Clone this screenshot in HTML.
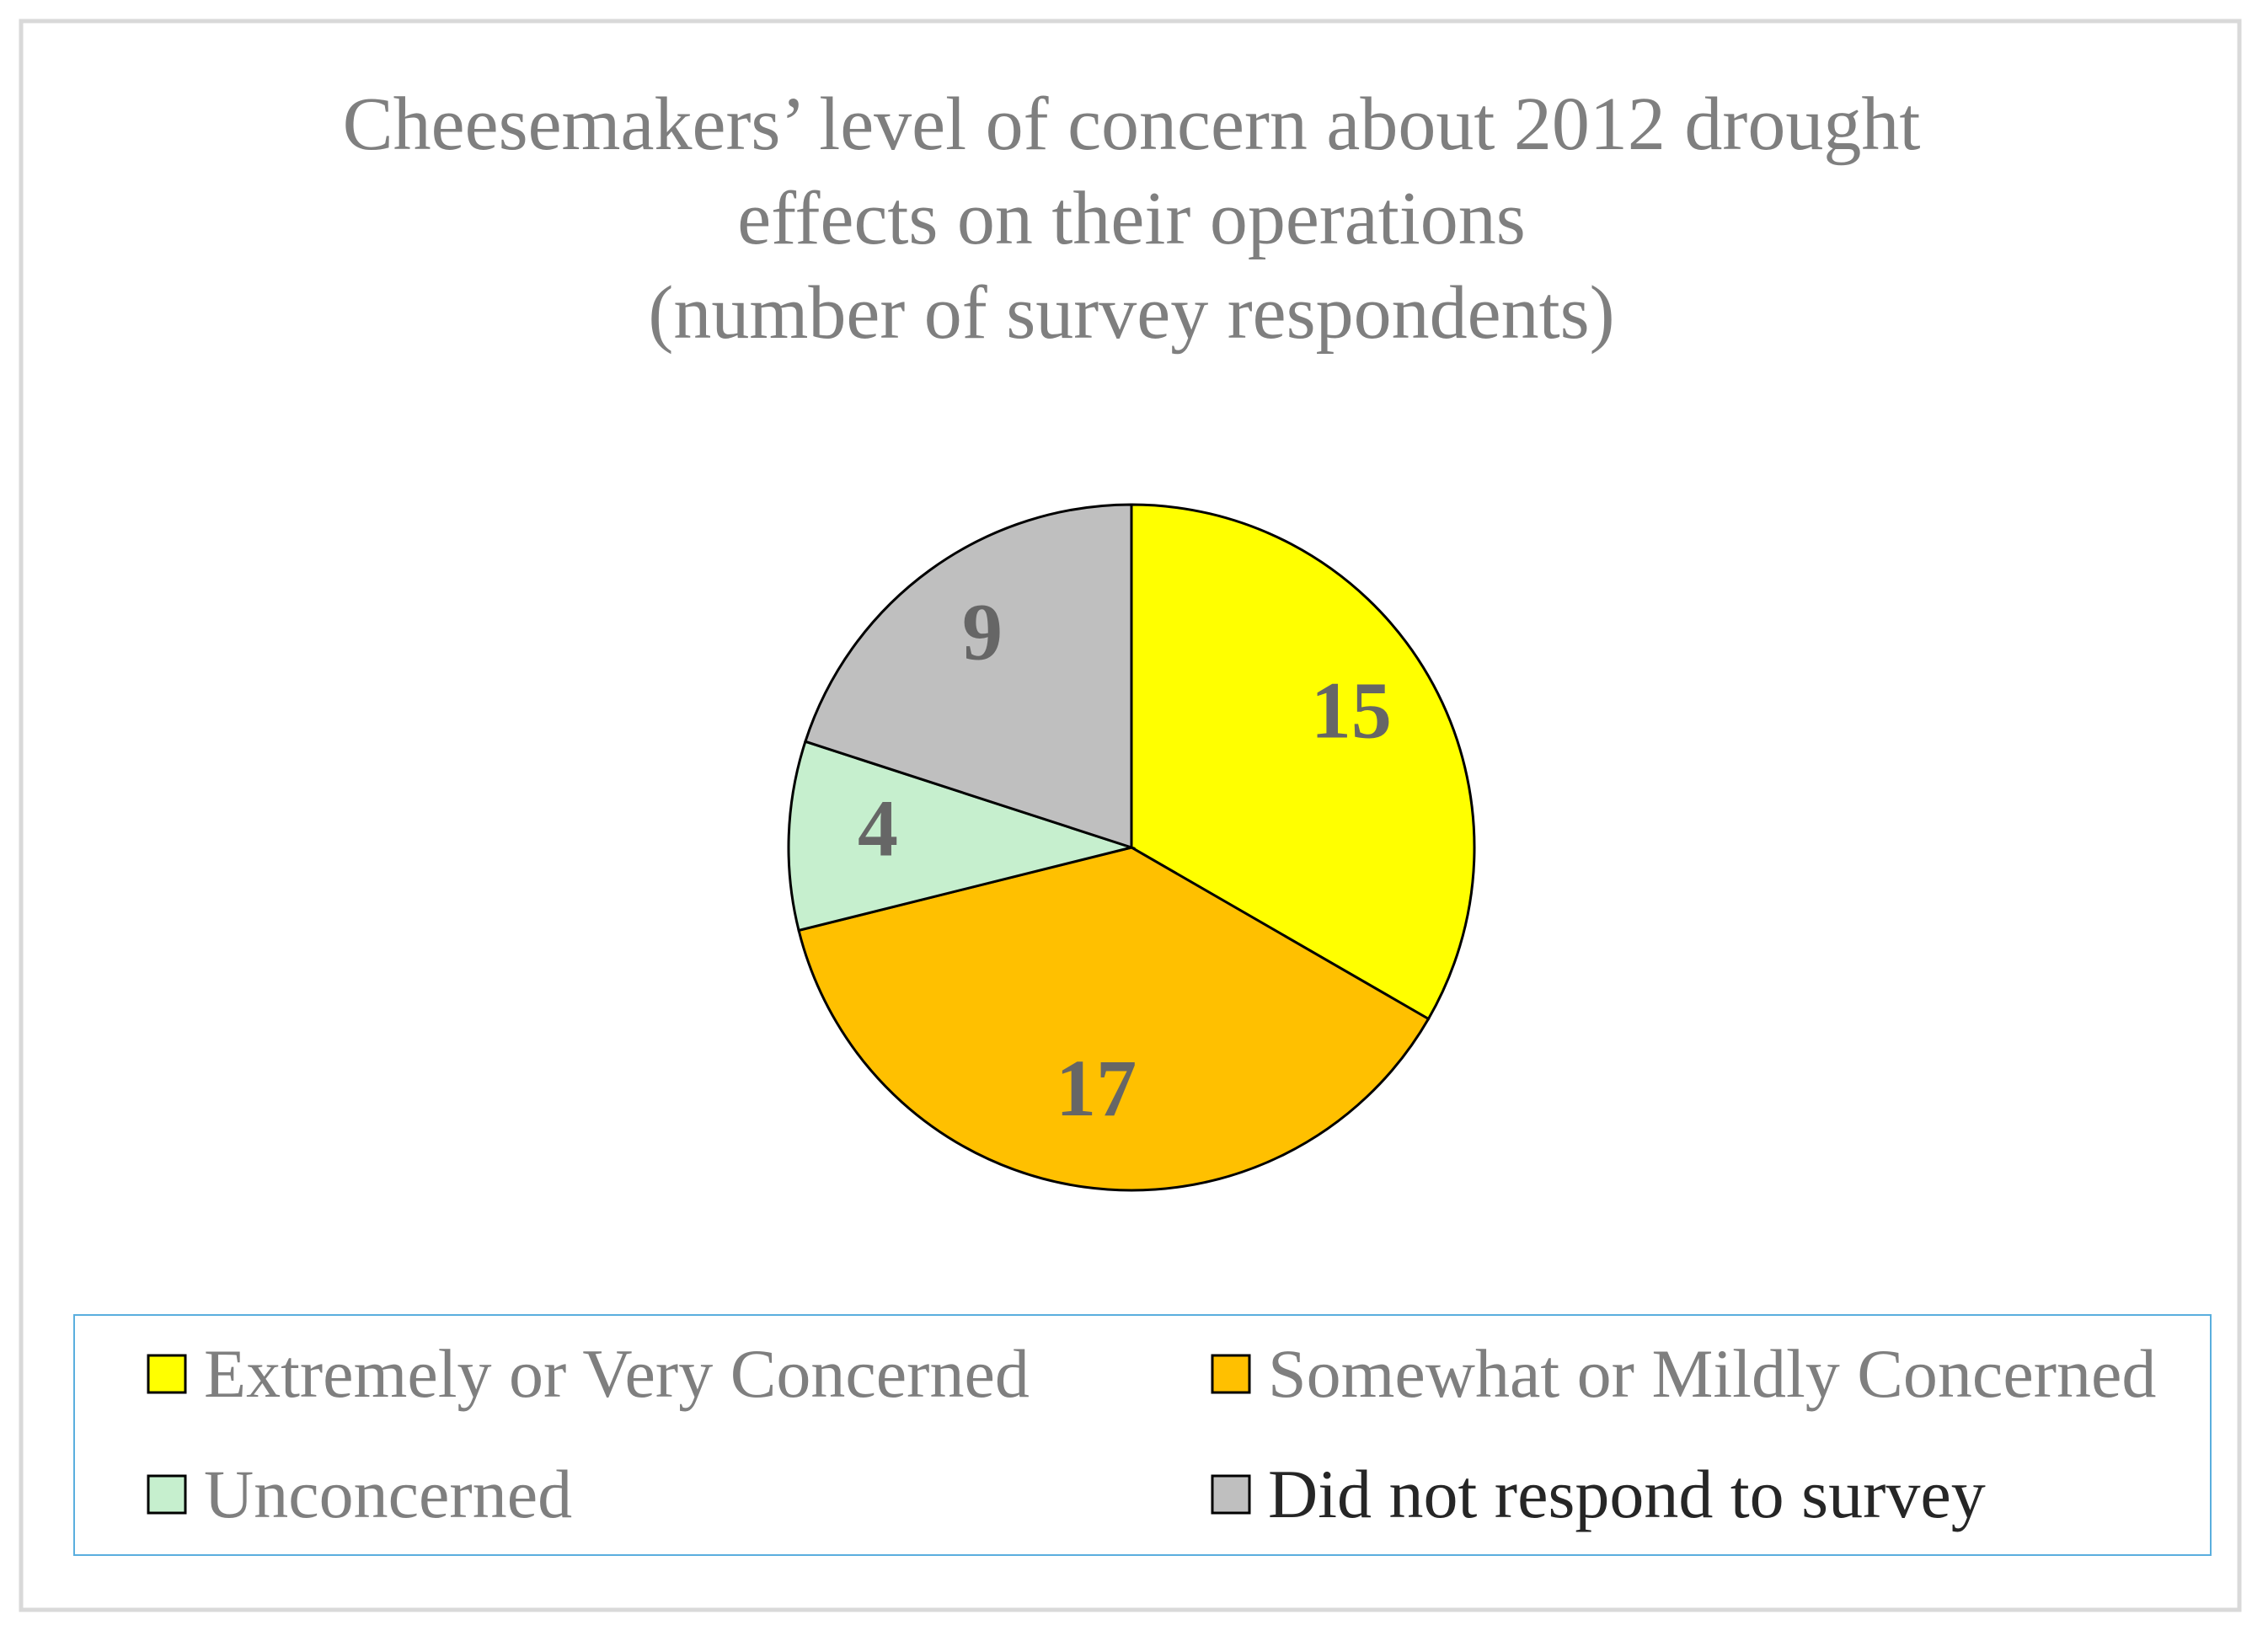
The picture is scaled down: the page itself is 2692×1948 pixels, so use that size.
<!DOCTYPE html>
<html><head><meta charset="utf-8">
<style>
html,body{margin:0;padding:0;background:#fff;}
svg{display:block;}
</style></head>
<body>
<svg id="chart" width="2692" height="1948" viewBox="0 0 2692 1948" xmlns="http://www.w3.org/2000/svg" font-family="'Liberation Serif', serif">
<rect x="25" y="25" width="2633" height="1886" fill="#fff" stroke="#d9d9d9" stroke-width="5"/>
<g fill="#7f7f7f" font-size="90" text-anchor="middle">
<text x="1343" y="177">Cheesemakers’ level of concern about 2012 drought</text>
<text x="1343" y="289">effects on their operations</text>
<text x="1343" y="401">(number of survey respondents)</text>
</g>
<g id="slices"></g>
<g id="labels"></g>
<rect x="88" y="1561" width="2536" height="285" fill="none" stroke="#5aaede" stroke-width="2"/>
<g id="legend"></g>
</svg>
<script>
const categories = ["Extremely or Very Concerned","Somewhat or Mildly Concerned","Unconcerned","Did not respond to survey"];
const values = [15,17,4,9];
const colors = ["#ffff00","#ffc000","#c6efce","#bfbfbf"];
const NS="http://www.w3.org/2000/svg";
const cx=1343, cy=1006, r=407;
const total=values.reduce((a,b)=>a+b,0);
const sg=document.getElementById('slices'), lg=document.getElementById('labels'), leg=document.getElementById('legend');
function pt(a,rr){return [cx+rr*Math.sin(a), cy-rr*Math.cos(a)];}
let acc=0;
values.forEach((v,i)=>{
  const a0=acc/total*2*Math.PI; acc+=v; const a1=acc/total*2*Math.PI;
  const p0=pt(a0,r), p1=pt(a1,r);
  const large=(a1-a0)>Math.PI?1:0;
  const p=document.createElementNS(NS,'path');
  p.setAttribute('d',`M${cx},${cy} L${p0[0]},${p0[1]} A${r},${r} 0 ${large} 1 ${p1[0]},${p1[1]} Z`);
  p.setAttribute('fill',colors[i]); p.setAttribute('stroke','#000'); p.setAttribute('stroke-width','3');
  
  
  sg.appendChild(p);
  const am=(a0+a1)/2, lp=pt(am,r*0.74);
  const t=document.createElementNS(NS,'text');
  t.setAttribute('x',lp[0]); t.setAttribute('y',lp[1]+20);
  t.setAttribute('text-anchor','middle'); t.setAttribute('font-size','96'); t.setAttribute('font-weight','bold'); t.setAttribute('fill','#666');
  t.textContent=v;
  
  
  lg.appendChild(t);
});
const lx=[176,1439], ly=[1631,1774];
categories.forEach((c,i)=>{
  const x=lx[i%2], y=ly[Math.floor(i/2)];
  const g=document.createElementNS(NS,'g');
  
  
  const s=document.createElementNS(NS,'rect');
  s.setAttribute('x',x); s.setAttribute('y',y-22); s.setAttribute('width',44); s.setAttribute('height',44);
  s.setAttribute('fill',colors[i]); s.setAttribute('stroke','#000'); s.setAttribute('stroke-width','3');
  
  
  const t=document.createElementNS(NS,'text');
  t.setAttribute('x',x+66); t.setAttribute('y',y+27); t.setAttribute('font-size','82');
  t.setAttribute('fill', i===3?'#262626':'#7f7f7f');
  t.textContent=c;
  
  
  g.appendChild(s); g.appendChild(t); leg.appendChild(g);
});
</script>
</body></html>
